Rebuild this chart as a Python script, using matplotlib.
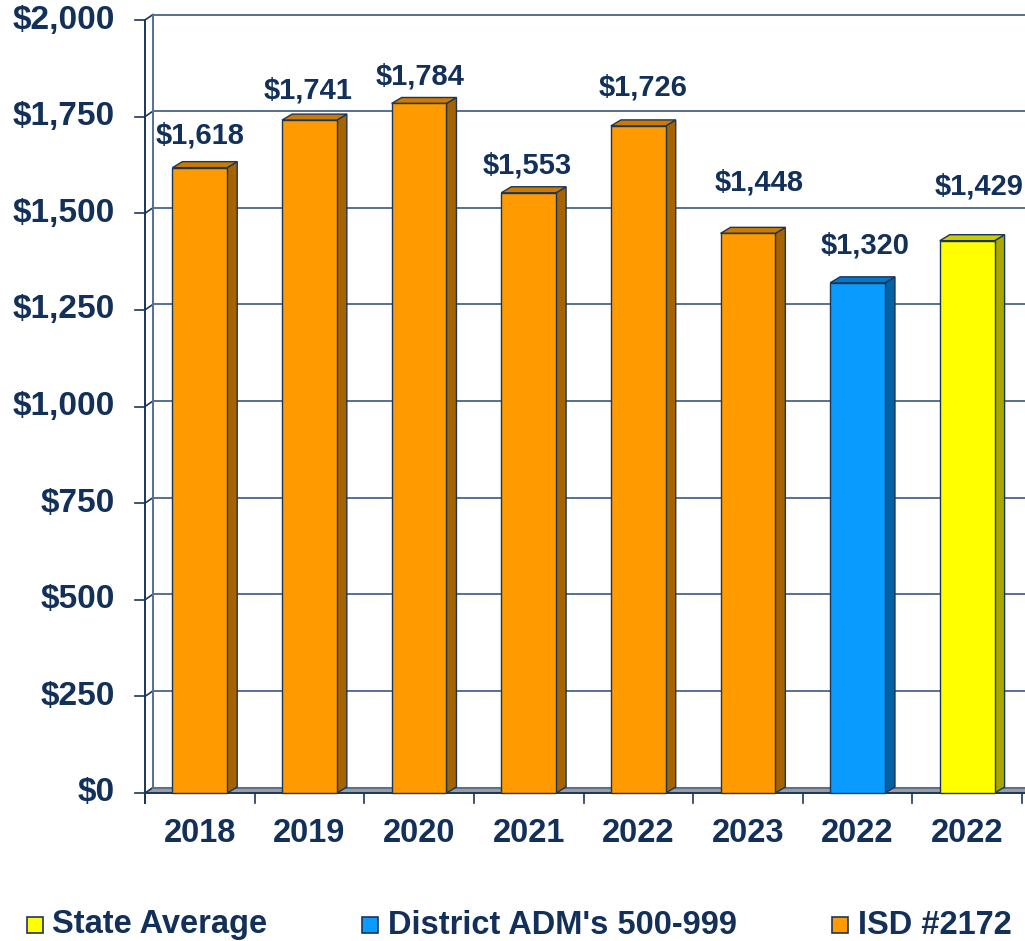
import matplotlib
matplotlib.use("Agg")
import matplotlib.pyplot as plt
from matplotlib.patches import Polygon, Rectangle

# ---- data ----
categories = ["2018", "2019", "2020", "2021", "2022", "2023", "2022", "2022"]
values = [1618, 1741, 1784, 1553, 1726, 1448, 1320, 1429]
groups = ["ISD #2172"] * 6 + ["District ADM's 500-999", "State Average"]
value_labels = ["$1,618", "$1,741", "$1,784", "$1,553", "$1,726", "$1,448", "$1,320", "$1,429"]
y_ticks = [0, 250, 500, 750, 1000, 1250, 1500, 1750, 2000]
y_tick_labels = ["$0", "$250", "$500", "$750", "$1,000", "$1,250", "$1,500", "$1,750", "$2,000"]
legend_order = ["State Average", "District ADM's 500-999", "ISD #2172"]

# ---- styles ----
colors = {
    "ISD #2172": ("#FF9A00", "#A66300", "#CC7A00"),
    "District ADM's 500-999": ("#0A9BFF", "#0062A6", "#0078CC"),
    "State Average": ("#FFFF00", "#A8A800", "#CCCC00"),
}
TXT = "#12305A"
EDGE = "#1C3658"
GRID = "#56708F"
FONT = "Liberation Sans"

W, H, DPI = 1025, 941, 100
fig = plt.figure(figsize=(W / DPI, H / DPI), dpi=DPI)
ax_l, ax_r, ax_t, ax_b = 145, 1022, 20, 793
ax = fig.add_axes([ax_l / W, 1 - ax_b / H, (ax_r - ax_l) / W, (ax_b - ax_t) / H])
n = len(categories)
ax.set_xlim(-0.5, n - 0.5)
ax.set_ylim(0, 2000)
ax.axis("off")

pxx = (ax_r - ax_l) / n          # pixels per x unit
pxy = (ax_b - ax_t) / 2000.0     # pixels per y unit
def dx(p): return p / pxx
def dy(p): return p / pxy

# wall / floor depth
wdx, wdy = dx(8), dy(5.5)
# bar depth
bdx, bdy = dx(10), dy(6)

x0 = -0.5
xr = n - 0.5 + dx(20)

# floor
ax.add_patch(Polygon([(x0, 0), (xr, 0), (xr + wdx, wdy), (x0 + wdx, wdy)],
                     closed=True, facecolor="#9C9C9C", edgecolor="#B8B8B8", lw=0.8,
                     clip_on=False, zorder=1))
# gridlines on back wall + connectors
for t in y_ticks:
    ax.plot([x0 + wdx, xr + wdx], [t + wdy, t + wdy], color=GRID, lw=1.4,
            clip_on=False, zorder=1.5)
    ax.plot([x0, x0 + wdx], [t, t + wdy], color=EDGE, lw=1.2, clip_on=False, zorder=1.5)
    ax.plot([x0 - dx(10), x0], [t, t], color=EDGE, lw=1.2, clip_on=False, zorder=3)
    ax.annotate(y_tick_labels[y_ticks.index(t)], (x0, t), xytext=(-30, 0),
                textcoords="offset pixels", ha="right", va="center",
                fontsize=24, fontweight="bold", color=TXT, family=FONT,
                annotation_clip=False)
# back wall left vertical
ax.plot([x0 + wdx, x0 + wdx], [wdy, 2000 + wdy], color=GRID, lw=1.4, clip_on=False, zorder=1.5)
# front y axis
ax.plot([x0, x0], [-dy(10), 2000], color=EDGE, lw=1.4, clip_on=False, zorder=3)
# front x axis
ax.plot([x0, xr], [0, 0], color=EDGE, lw=1.4, clip_on=False, zorder=3)
for i in range(n + 1):
    ax.plot([x0 + i, x0 + i], [0, -dy(10)], color=EDGE, lw=1.2, clip_on=False, zorder=3)

# bars
hw = 0.25
label_dx = [0, -1, 1, -1, 5, 11, 8, 12]
label_dy = [32, 30, 27, 27, 38, 51, 37, 54]
for i, (v, g) in enumerate(zip(values, groups)):
    front, side, top = colors[g]
    l, r = i - hw, i + hw
    ax.add_patch(Polygon([(r, 0), (r + bdx, bdy), (r + bdx, v + bdy), (r, v)], closed=True,
                         facecolor=side, edgecolor=EDGE, lw=1.0, zorder=4, clip_on=False))
    ax.add_patch(Polygon([(l, v), (r, v), (r + bdx, v + bdy), (l + bdx, v + bdy)], closed=True,
                         facecolor=top, edgecolor=EDGE, lw=1.0, zorder=4, clip_on=False))
    ax.add_patch(Rectangle((l, 0), r - l, v, facecolor=front, edgecolor=EDGE, lw=1.0,
                           zorder=5, clip_on=False))
    ax.annotate(value_labels[i], (i, v), xytext=(label_dx[i], label_dy[i]),
                textcoords="offset pixels", ha="center", va="center",
                fontsize=21, fontweight="bold", color=TXT, family=FONT,
                annotation_clip=False, zorder=6)
    ax.annotate(categories[i], (i, 0), xytext=(0, -41), textcoords="offset pixels",
                ha="center", va="center", fontsize=23.5, fontweight="bold",
                color=TXT, family=FONT, annotation_clip=False)

# legend (manual, pixel positions)
leg_items = [(27, 52), (362, 388), (832, 858)]
leg_y = 925
for name, (sx, tx) in zip(legend_order, leg_items):
    front = colors[name][0]
    fig.patches.append(Rectangle((sx / W, 1 - (leg_y + 8) / H), 16 / W, 16 / H,
                                 transform=fig.transFigure, facecolor=front,
                                 edgecolor=EDGE, lw=1.2))
    fig.text(tx / W, 1 - leg_y / H, name, ha="left", va="center", fontsize=23.5,
             fontweight="bold", color=TXT, family=FONT)

fig.savefig("out.png", dpi=DPI)
